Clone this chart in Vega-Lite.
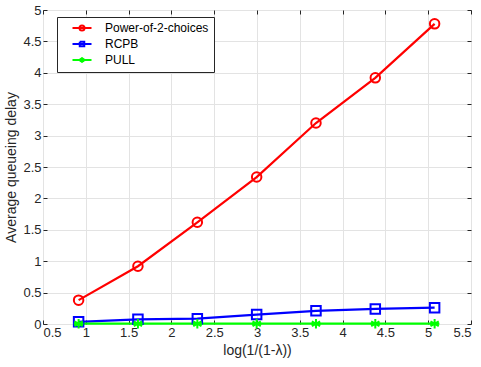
{
  "$schema": "https://vega.github.io/schema/vega-lite/v6.json",
  "autosize": "none",
  "width": 428,
  "height": 314,
  "padding": {"left": 43, "top": 10, "right": 10, "bottom": 43},
  "background": "white",
  "config": {
    "font": "Liberation Sans",
    "view": {"stroke": "#262626", "strokeWidth": 1},
    "axis": {
      "domain": false,
      "labelFont": "Liberation Sans",
      "labelFontSize": 13,
      "labelColor": "#262626",
      "titleFont": "Liberation Sans",
      "titleFontSize": 14,
      "titleFontWeight": "normal",
      "titleColor": "#262626",
      "tickColor": "#262626",
      "tickSize": -4,
      "gridColor": "#e3e3e3",
      "gridWidth": 1,
      "labelPadding": 6
    },
    "legend": {
      "labelFont": "Liberation Sans",
      "labelFontSize": 12,
      "labelColor": "#000000",
      "title": null,
      "orient": "none",
      "legendX": 14,
      "legendY": 7,
      "fillColor": "white",
      "strokeColor": "#262626",
      "padding": 5,
      "symbolStrokeWidth": 2,
      "symbolSize": 100,
      "symbolOffset": 14,
      "labelOffset": 17,
      "rowPadding": 2
    }
  },
  "data": {
    "values": [
      {"x": 0.916, "y": 0.38, "s": "Power-of-2-choices"},
      {"x": 1.609, "y": 0.92, "s": "Power-of-2-choices"},
      {"x": 2.303, "y": 1.62, "s": "Power-of-2-choices"},
      {"x": 2.996, "y": 2.34, "s": "Power-of-2-choices"},
      {"x": 3.689, "y": 3.2, "s": "Power-of-2-choices"},
      {"x": 4.382, "y": 3.92, "s": "Power-of-2-choices"},
      {"x": 5.075, "y": 4.78, "s": "Power-of-2-choices"},
      {"x": 0.916, "y": 0.035, "s": "RCPB"},
      {"x": 1.609, "y": 0.075, "s": "RCPB"},
      {"x": 2.303, "y": 0.085, "s": "RCPB"},
      {"x": 2.996, "y": 0.15, "s": "RCPB"},
      {"x": 3.689, "y": 0.21, "s": "RCPB"},
      {"x": 4.382, "y": 0.24, "s": "RCPB"},
      {"x": 5.075, "y": 0.26, "s": "RCPB"},
      {"x": 0.916, "y": 0.005, "s": "PULL"},
      {"x": 1.609, "y": 0.005, "s": "PULL"},
      {"x": 2.303, "y": 0.005, "s": "PULL"},
      {"x": 2.996, "y": 0.005, "s": "PULL"},
      {"x": 3.689, "y": 0.005, "s": "PULL"},
      {"x": 4.382, "y": 0.005, "s": "PULL"},
      {"x": 5.075, "y": 0.005, "s": "PULL"}
    ]
  },
  "resolve": {"axis": {"x": "independent", "y": "independent"}},
  "layer": [
    {
      "mark": {"type": "line", "strokeWidth": 2.2},
      "encoding": {
        "x": {"field": "x", "type": "quantitative", "scale": {"domain": [0.5, 5.5], "nice": false}, "axis": {"orient": "bottom", "title": "log(1/(1-λ))", "format": "~g", "grid": true, "values": [0.5,1,1.5,2,2.5,3,3.5,4,4.5,5,5.5]}},
        "y": {"field": "y", "type": "quantitative", "scale": {"domain": [0, 5], "nice": false}, "axis": {"orient": "left", "title": "Average queueing delay", "format": "~g", "grid": true, "values": [0,0.5,1,1.5,2,2.5,3,3.5,4,4.5,5]}},
        "color": {"field": "s", "type": "nominal", "scale": {"domain": ["Power-of-2-choices", "RCPB", "PULL"], "range": ["#ff0000", "#0000ff", "#00ff00"]}, "legend": {"symbolFillColor": "transparent", "symbolType": {"expr": "datum.value === 'RCPB' ? 'M-1.9,0L1.9,0M-0.45,-0.45L0.45,-0.45L0.45,0.45L-0.45,0.45L-0.45,-0.45L-0.45,0.45L0.45,0.45L0.45,-0.45L-0.45,-0.45' : datum.value === 'PULL' ? 'M-1.9,0L1.9,0M0,-0.55L0,0.55M-0.48,-0.28L0.48,0.28M-0.48,0.28L0.48,-0.28' : 'M-1.9,0L1.9,0M-0.5,0A0.5,0.5,0,1,1,0.5,0A0.5,0.5,0,1,1,-0.5,0A0.5,0.5,0,1,0,0.5,0A0.5,0.5,0,1,0,-0.5,0'"}}},
        "order": {"field": "x"}
      }
    },
    {
      "transform": [{"filter": "datum.s === 'Power-of-2-choices'"}],
      "mark": {"type": "point", "filled": false, "strokeWidth": 2, "size": 90, "opacity": 1, "shape": "circle", "color": "#ff0000"},
      "encoding": {
        "x": {"field": "x", "type": "quantitative", "scale": {"domain": [0.5, 5.5], "nice": false}, "axis": {"orient": "top", "labels": false, "title": null, "grid": false, "values": [0.5,1,1.5,2,2.5,3,3.5,4,4.5,5,5.5]}},
        "y": {"field": "y", "type": "quantitative", "scale": {"domain": [0, 5], "nice": false}, "axis": {"orient": "right", "labels": false, "title": null, "grid": false, "values": [0,0.5,1,1.5,2,2.5,3,3.5,4,4.5,5]}}
      }
    },
    {
      "transform": [{"filter": "datum.s === 'RCPB'"}],
      "mark": {"type": "point", "filled": false, "strokeWidth": 2, "size": 90, "opacity": 1, "shape": "square", "color": "#0000ff"},
      "encoding": {
        "x": {"field": "x", "type": "quantitative", "scale": {"domain": [0.5, 5.5], "nice": false}, "axis": null},
        "y": {"field": "y", "type": "quantitative", "scale": {"domain": [0, 5], "nice": false}, "axis": null}
      }
    },
    {
      "transform": [{"filter": "datum.s === 'PULL'"}],
      "mark": {"type": "point", "filled": false, "strokeWidth": 2, "size": 90, "opacity": 1, "shape": "M0,-1L0,1M-0.87,-0.5L0.87,0.5M-0.87,0.5L0.87,-0.5M-1,0L1,0", "color": "#00ff00"},
      "encoding": {
        "x": {"field": "x", "type": "quantitative", "scale": {"domain": [0.5, 5.5], "nice": false}, "axis": null},
        "y": {"field": "y", "type": "quantitative", "scale": {"domain": [0, 5], "nice": false}, "axis": null}
      }
    }
  ]
}
